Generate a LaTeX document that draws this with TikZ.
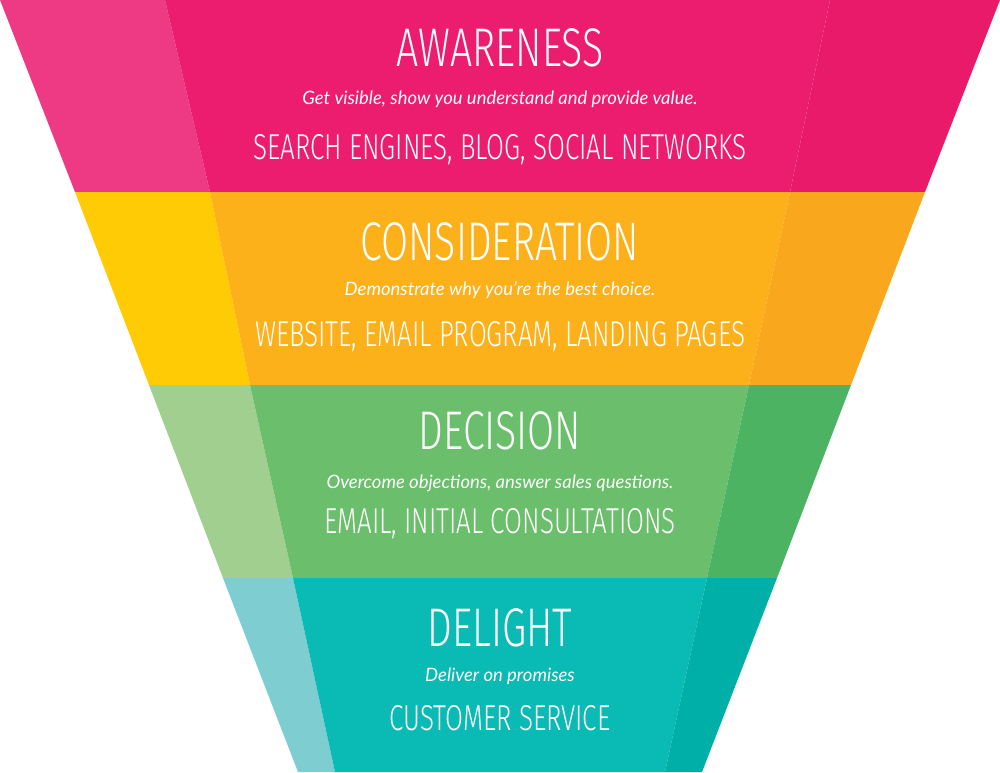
\documentclass[tikz,border=0pt]{standalone}
\usepackage{fontspec}
\newfontfamily\cond[FakeStretch=0.72]{Fira Sans Light}
\newfontfamily\ital{Lato}
\definecolor{aL}{RGB}{238,58,132}\definecolor{aM}{RGB}{236,28,110}\definecolor{aR}{RGB}{234,26,107}
\definecolor{cL}{RGB}{255,203,5}\definecolor{cM}{RGB}{252,176,25}\definecolor{cR}{RGB}{249,167,28}
\definecolor{dL}{RGB}{160,207,144}\definecolor{dM}{RGB}{107,190,108}\definecolor{dR}{RGB}{76,179,99}
\definecolor{eL}{RGB}{126,205,209}\definecolor{eM}{RGB}{10,186,181}\definecolor{eR}{RGB}{0,176,168}
\tikzset{ttl/.style={text=white,font=\cond\fontsize{31}{31}\selectfont,inner sep=0},
 sub/.style={text=white,font=\ital\itshape\fontsize{10.5}{12}\selectfont,inner sep=0},
 lst/.style={text=white,font=\cond\fontsize{20.5}{22}\selectfont,inner sep=0}}
\newcommand\band[9]{% y0 y1 lo0 lo1 li0 li1 ri0 ri1 prefix
 \fill[#9L] (#3,#1)--(#5,#1)--(#6,#2)--(#4,#2)--cycle;
 \fill[#9M] (#5,#1)--(#7,#1)--(#8,#2)--(#6,#2)--cycle;
 \fill[#9R] (#7,#1)--(1000-#3,#1)--(1000-#4,#2)--(#8,#2)--cycle;}
\begin{document}
\begin{tikzpicture}[x=0.02cm,y=-0.02cm]
\useasboundingbox (0,0) rectangle (1000,772);
\band{0}{192}{0}{75}{165}{210}{830}{790}{a}
\band{192}{385}{75}{149}{210}{250}{790}{749}{c}
\band{385}{578}{149}{223}{250}{293}{749}{707}{d}
\band{578}{772}{223}{298}{293}{335}{707}{665}{e}
\node[ttl] (t1) at (500,48) {AWARENESS};
\node[sub] (s1) at (500,99) {Get visible, show you understand and provide value.};
\node[lst] (l1) at (500,150) {SEARCH ENGINES, BLOG, SOCIAL NETWORKS};
\node[ttl] (t2) at (500,242) {CONSIDERATION};
\node[sub] (s2) at (500,290) {Demonstrate why you’re the best choice.};
\node[lst] (l2) at (500,337) {WEBSITE, EMAIL PROGRAM, LANDING PAGES};
\node[ttl] (t3) at (500,431) {DECISION};
\node[sub] (s3) at (500,483) {Overcome objections, answer sales questions.};
\node[lst] (l3) at (500,524) {EMAIL, INITIAL CONSULTATIONS};
\node[ttl] (t4) at (500,628) {DELIGHT};
\node[sub] (s4) at (500,676) {Deliver on promises};
\node[lst] (l4) at (500,718) {CUSTOMER SERVICE};
\end{tikzpicture}
\end{document}
